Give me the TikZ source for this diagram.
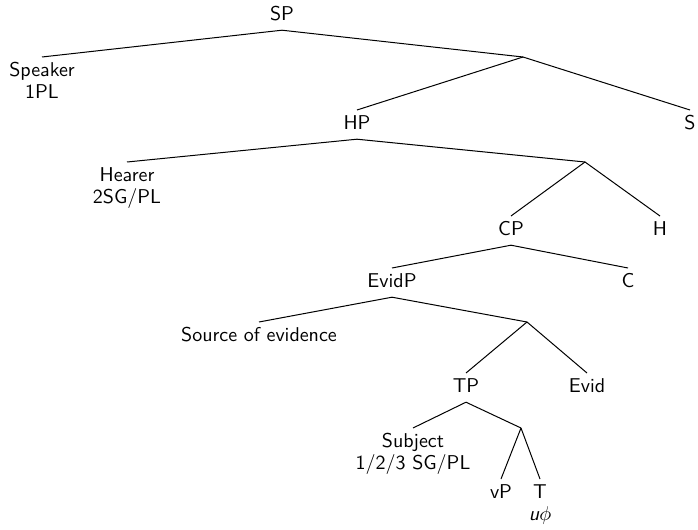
\documentclass[tikz,border=0pt]{standalone}
\begin{document}
\begin{tikzpicture}[x=0.5pt,y=-0.5pt,
  lab/.style={anchor=north,inner sep=1.6pt,align=center,font=\sffamily\fontsize{10}{11}\selectfont},
  edge/.style={line width=0.5pt}]
\useasboundingbox (0,0) rectangle (698,530);
\node[lab] (SP) at (282,1) {\strut SP};
\node[lab] (Speaker) at (42,57) {\strut Speaker\\1PL\strut};
\coordinate (X1) at (523,57);
\node[lab] (HP) at (357,110) {\strut HP};
\node[lab] (S) at (690,110) {\strut S};
\node[lab] (Hearer) at (127,162) {\strut Hearer\\2SG/PL\strut};
\coordinate (X2) at (585,162);
\node[lab] (CP) at (511,216) {\strut CP};
\node[lab] (H) at (660,216) {\strut H};
\node[lab] (EvidP) at (392,268) {\strut EvidP};
\node[lab] (C) at (628,268) {\strut C};
\node[lab] (Source) at (259,322) {\strut Source of evidence};
\coordinate (X3) at (527,322);
\node[lab] (TP) at (466,373) {\strut TP};
\node[lab] (Evid) at (587,373) {\strut Evid};
\node[lab] (Subject) at (413,428) {\strut Subject\\1/2/3 SG/PL\strut};
\coordinate (X4) at (521,428);
\node[lab] (vP) at (501,479) {\strut vP};
\node[lab] (T) at (540,479) {\strut T\\\textit{u}$\phi$\strut};
\draw[edge] (SP.south) -- (Speaker.north);
\draw[edge] (SP.south) -- (X1);
\draw[edge] (X1) -- (HP.north);
\draw[edge] (X1) -- (S.north);
\draw[edge] (HP.south) -- (Hearer.north);
\draw[edge] (HP.south) -- (X2);
\draw[edge] (X2) -- (CP.north);
\draw[edge] (X2) -- (H.north);
\draw[edge] (CP.south) -- (EvidP.north);
\draw[edge] (CP.south) -- (C.north);
\draw[edge] (EvidP.south) -- (Source.north);
\draw[edge] (EvidP.south) -- (X3);
\draw[edge] (X3) -- (TP.north);
\draw[edge] (X3) -- (Evid.north);
\draw[edge] (TP.south) -- (Subject.north);
\draw[edge] (TP.south) -- (X4);
\draw[edge] (X4) -- (vP.north);
\draw[edge] (X4) -- (T.north);
\end{tikzpicture}
\end{document}
